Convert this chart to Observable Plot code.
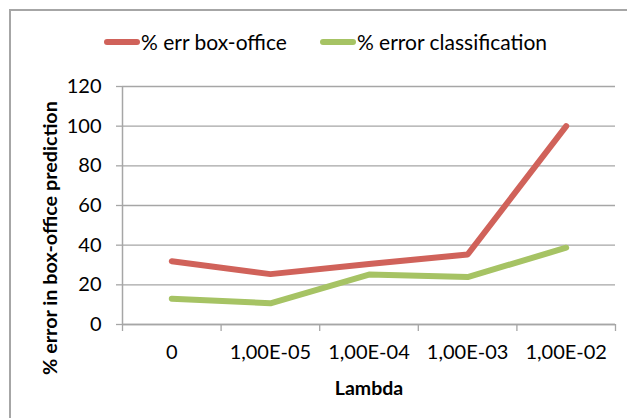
<!DOCTYPE html>
<html>
<head>
<meta charset="utf-8">
<script src="https://cdn.jsdelivr.net/npm/d3@7"></script>
<script src="https://cdn.jsdelivr.net/npm/@observablehq/plot@0.6"></script>
<style>
  html, body { margin: 0; padding: 0; background: #fff; }
  #wrap { position: relative; width: 627px; height: 418px; overflow: hidden; font-family: Lato, "Open Sans", sans-serif; }
  #frame { position: absolute; left: 9px; top: 9px; width: 700px; height: 500px; border-left: 2px solid #a6a6a6; border-top: 2px solid #a6a6a6; box-sizing: border-box; }
  #chart { position: absolute; left: 0; top: 0; }
  .legend { position: absolute; top: 29px; left: 104px; display: flex; align-items: center; font-size: 21px; color: #000; white-space: nowrap; }
  .sw { display: inline-block; width: 36px; height: 6px; border-radius: 3px; margin-right: 1px; }
  .ytitle { position: absolute; left: 49px; top: 238px; transform: translate(-50%, -50%) rotate(-90deg); font-weight: bold; font-size: 19.8px; white-space: nowrap; color: #000; }
  .xtitle { position: absolute; left: 369px; top: 387px; transform: translate(-50%, -50%); font-weight: bold; font-size: 19.5px; color: #000; }
</style>
</head>
<body>
<div id="wrap">
  <div id="frame"></div>
  <div id="chart"></div>
  <div class="legend" id="legend"></div>
  <div class="ytitle">% error in box-office prediction</div>
  <div class="xtitle">Lambda</div>
</div>
<script>
const lambdas = ["0", "1,00E-05", "1,00E-04", "1,00E-03", "1,00E-02"];
const seriesNames = ["% err box-office", "% error classification"];
const errBoxOffice = [31.9, 25.4, 30.5, 35.3, 100];
const errClassification = [13, 10.7, 25.2, 23.9, 38.7];
const seriesColors = ["#d0625a", "#a6c364"];
const yTicks = [0, 20, 40, 60, 80, 100, 120];

const rows = [];
lambdas.forEach((l, i) => {
  rows.push({i, series: seriesNames[0], value: errBoxOffice[i]});
  rows.push({i, series: seriesNames[1], value: errClassification[i]});
});
const bounds = d3.range(lambdas.length + 1).map(k => k - 0.5);

const chart = Plot.plot({
  width: 627,
  height: 418,
  marginLeft: 122,
  marginRight: 12,
  marginTop: 86,
  marginBottom: 94,
  style: {fontFamily: "Lato, 'Open Sans', sans-serif", fontSize: "20px", color: "#000", background: "transparent"},
  x: {type: "linear", domain: [-0.5, lambdas.length - 0.5]},
  y: {domain: [0, 120]},
  color: {domain: seriesNames, range: seriesColors},
  marks: [
    Plot.gridY(yTicks, {stroke: "#a6a6a6", strokeOpacity: 1, strokeWidth: 1.3}),
    Plot.ruleX([-0.5], {stroke: "#a6a6a6", strokeWidth: 1.5}),
    Plot.ruleY([0], {stroke: "#a6a6a6", strokeWidth: 1.5}),
    Plot.axisY(yTicks, {tickSize: 6, tickPadding: 15, stroke: "#a6a6a6", strokeWidth: 1.3, fill: "#000", fontSize: 20, label: null}),
    Plot.axisX(bounds, {tickSize: 7, tickFormat: () => "", stroke: "#a6a6a6", strokeWidth: 1.3, label: null}),
    Plot.axisX(d3.range(lambdas.length), {tickSize: 0, tickPadding: 20, tickFormat: i => lambdas[i], fill: "#000", fontSize: 20, label: null}),
    Plot.line(rows, {x: "i", y: "value", z: "series", stroke: "series", strokeWidth: 6, strokeLinecap: "round", strokeLinejoin: "round"})
  ]
});
document.getElementById("chart").appendChild(chart);

const legend = document.getElementById("legend");
seriesNames.forEach((name, k) => {
  const item = document.createElement("span");
  item.style.display = "inline-flex";
  item.style.alignItems = "center";
  item.style.marginRight = k === 0 ? "33px" : "0";
  const sw = document.createElement("span");
  sw.className = "sw";
  sw.style.background = seriesColors[k];
  const t = document.createElement("span");
  t.textContent = name;
  item.appendChild(sw);
  item.appendChild(t);
  legend.appendChild(item);
});
</script>
</body>
</html>
